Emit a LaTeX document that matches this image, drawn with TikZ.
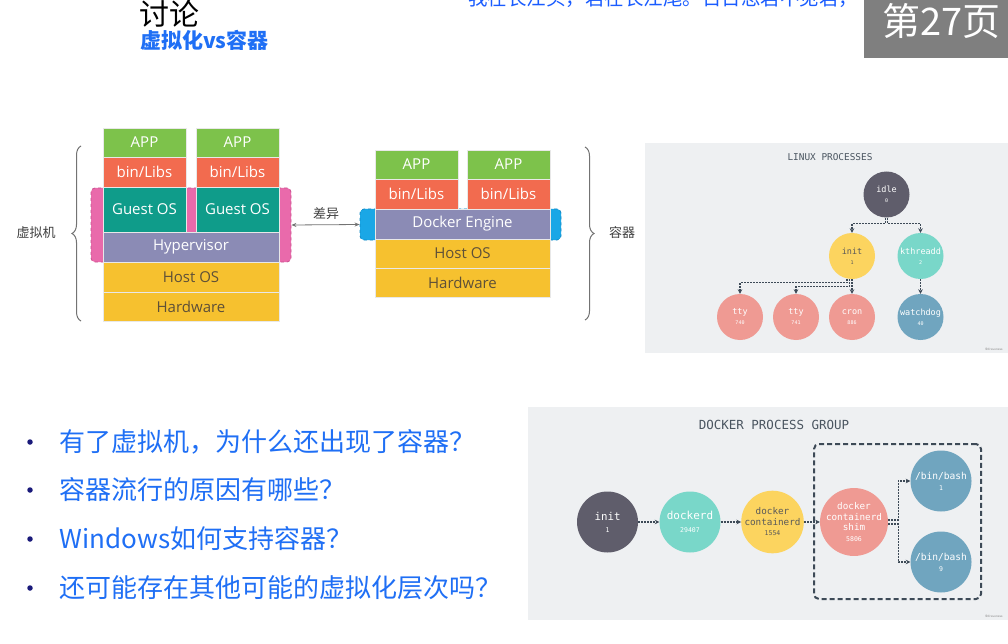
\documentclass[tikz,border=0pt]{standalone}
\usepackage{fontspec}
\setmainfont{Open Sans}
\newfontfamily\cjk{Noto Sans CJK SC}
\newfontfamily\boxfont{Open Sans}
\newfontfamily\pmono{DejaVu Sans Mono}
\usetikzlibrary{arrows.meta,decorations.pathreplacing,calc}
\definecolor{appgreen}{HTML}{7DC24B}
\definecolor{libred}{HTML}{F26B4F}
\definecolor{guestteal}{HTML}{0F9C8A}
\definecolor{hyperpurple}{HTML}{8B8BB5}
\definecolor{hostyellow}{HTML}{F6C12F}
\definecolor{pinkb}{HTML}{E96AAB}
\definecolor{pinkd}{HTML}{C94F8E}
\definecolor{blueb}{HTML}{1AA7E6}
\definecolor{blued}{HTML}{1088C4}
\definecolor{panelbg}{HTML}{EEF0F2}
\definecolor{pdark}{HTML}{5F5D6B}
\definecolor{pyellow}{HTML}{FCD45F}
\definecolor{pteal}{HTML}{79D7C9}
\definecolor{psalmon}{HTML}{EF9A93}
\definecolor{pblue}{HTML}{70A5BF}
\definecolor{linec}{HTML}{3D4A57}
\definecolor{txtblue}{HTML}{1F6FF5}
\definecolor{headblue}{HTML}{1A5CFF}
\definecolor{navy}{HTML}{1A1A7A}
\definecolor{hosttext}{HTML}{5E5038}
\definecolor{graybox}{HTML}{7F7F7F}
\definecolor{ttlgray}{HTML}{4A5560}
\newcommand\pnum[1]{{\fontsize{5}{6}\selectfont #1}}
\newcommand\dnum[1]{{\fontsize{6.5}{7.5}\selectfont #1}}
\begin{document}
\begin{tikzpicture}[x=1pt,y=-1pt,
  layer/.style={rectangle, inner sep=0pt, draw=white!82!gray, line width=0.6pt,
    font=\boxfont\fontsize{15}{18}\selectfont, text=white},
  lbl/.style={font=\cjk\fontsize{13}{15}\selectfont, text=black!75},
  bracebar/.style={decorate, decoration={brace, amplitude=9pt}, draw=black!55, line width=1pt},
  proc/.style={circle, minimum size=46pt, inner sep=0pt, align=center,
    font=\pmono\fontsize{8.5}{10}\selectfont, text=white},
  dproc/.style={circle, minimum size=61pt, inner sep=0pt, align=center,
    font=\pmono\fontsize{9.3}{10.5}\selectfont, text=white},
  conn/.style={draw=linec, line width=1.1pt, dash pattern=on 2pt off 1pt,
    -{Stealth[length=4.5pt,width=4.5pt]}},
  bullettext/.style={anchor=west, font=\cjk\fontsize{26}{28}\selectfont, text=txtblue},
  bulletdot/.style={circle, fill=navy, inner sep=0pt, minimum size=5.5pt}
]
\useasboundingbox (0,0) rectangle (1008,644);
\fill[white] (0,0) rectangle (1008,644);

% header
\node[anchor=base west, font=\cjk\fontsize{19.5}{22}\selectfont, text=headblue, inner sep=0pt] (poem) at (468,6) {我在长江头，君在长江尾。日日思君不见君，};
\node[fill=graybox, anchor=north west, minimum width=144pt, minimum height=58pt, inner sep=0pt] (pagebox) at (864,0) {};
\node[anchor=base west, font=\cjk\fontsize{38}{40}\selectfont, text=white, inner sep=0pt] (pagenum) at (882,36) {第27页};
\node[anchor=west, font=\cjk\fontsize{30}{32}\selectfont, text=black, inner sep=0pt] (title) at (139,14) {讨论};
\node[anchor=west, font=\cjk\bfseries\fontsize{21}{24}\selectfont, text=txtblue, inner sep=0pt] (subtitle) at (140,40) {虚拟化vs容器};

% VM stack
\node[rectangle, rounded corners=4pt, fill=pinkb, draw=pinkd, dashed, line width=0.8pt,
  minimum width=200pt, minimum height=74pt, inner sep=0pt] (pink) at (191,225) {};
\node[layer, fill=appgreen, minimum width=83pt, minimum height=29pt] (vapp1) at (144.5,142.5) {APP};
\node[layer, fill=appgreen, minimum width=83pt, minimum height=29pt] (vapp2) at (237.5,142.5) {APP};
\node[layer, fill=libred, minimum width=83pt, minimum height=30pt] (vlib1) at (144.5,172) {bin/Libs};
\node[layer, fill=libred, minimum width=83pt, minimum height=30pt] (vlib2) at (237.5,172) {bin/Libs};
\node[layer, fill=guestteal, minimum width=83pt, minimum height=45pt] (vg1) at (144.5,209.5) {Guest OS};
\node[layer, fill=guestteal, minimum width=83pt, minimum height=45pt] (vg2) at (237.5,209.5) {Guest OS};
\node[layer, fill=hyperpurple, minimum width=176pt, minimum height=30pt] (hyper) at (191,247) {Hypervisor};
\node[layer, fill=hostyellow, text=hosttext, minimum width=176pt, minimum height=30pt] (vhost) at (191,277) {Host OS};
\node[layer, fill=hostyellow, text=hosttext, minimum width=176pt, minimum height=29pt] (vhw) at (191,306.5) {Hardware};

% Container stack
\node[rectangle, rounded corners=4pt, fill=blueb, draw=blued, dashed, line width=0.8pt,
  minimum width=201pt, minimum height=31pt, inner sep=0pt] (blue) at (460.5,224.5) {};
\node[layer, fill=appgreen, minimum width=83pt, minimum height=29pt] (capp1) at (416.5,164.5) {APP};
\node[layer, fill=appgreen, minimum width=83pt, minimum height=29pt] (capp2) at (508.5,164.5) {APP};
\node[layer, fill=libred, minimum width=83pt, minimum height=30pt] (clib1) at (416.5,194) {bin/Libs};
\node[layer, fill=libred, minimum width=83pt, minimum height=30pt] (clib2) at (508.5,194) {bin/Libs};
\node[layer, fill=hyperpurple, minimum width=175pt, minimum height=30pt] (engine) at (462.5,224) {Docker Engine};
\node[layer, fill=hostyellow, text=hosttext, minimum width=175pt, minimum height=29pt] (chost) at (462.5,253.5) {Host OS};
\node[layer, fill=hostyellow, text=hosttext, minimum width=175pt, minimum height=29pt] (chw) at (462.5,282.5) {Hardware};

% braces and labels
\coordinate (lbtop) at (81,146);
\coordinate (lbbot) at (81,321);
\draw[bracebar] (lbbot) -- (lbtop);
\node[lbl] (vmlabel) at (36,233) {虚拟机};
\coordinate (rbtop) at (585,147);
\coordinate (rbbot) at (585,320);
\draw[bracebar] (rbtop) -- (rbbot);
\node[lbl] (ctlabel) at (622,233) {容器};
\draw[{Stealth[length=5pt,width=4pt]}-{Stealth[length=5pt,width=4pt]}, draw=black!55, line width=0.8pt] (pink.east) -- (blue.west);
\node[lbl] (difflabel) at (326,214) {差异};

% Linux processes panel
\node[fill=panelbg, anchor=north west, minimum width=363pt, minimum height=210pt, inner sep=0pt] (lpanel) at (645,143) {};
\node[font=\pmono\fontsize{9.4}{11}\selectfont, text=ttlgray] (ltitle) at (830,157) {LINUX PROCESSES};
\node[proc, fill=pdark] (idle) at (886.5,194.5) {idle\\\pnum{0}};
\node[proc, fill=pyellow, text=black!65] (init) at (852,256) {init\\\pnum{1}};
\node[proc, fill=pteal] (kthreadd) at (920.5,256) {kthreadd\\\pnum{2}};
\node[proc, fill=psalmon] (tty1) at (740,317) {tty\\\pnum{740}};
\node[proc, fill=psalmon] (tty2) at (796,317) {tty\\\pnum{741}};
\node[proc, fill=psalmon] (cron) at (852,317) {cron\\\pnum{886}};
\node[proc, fill=pblue] (watchdog) at (920.5,317) {watchdog\\\pnum{40}};
\draw[conn] ([xshift=-1.4pt]idle.south) -- ++(0,5.5) -| (init.north);
\draw[conn] ([xshift=1.4pt]idle.south) -- ++(0,5.5) -| (kthreadd.north);
\draw[conn] ([xshift=-5pt]init.south) -- ++(0,3.5) -| (tty1.north);
\draw[conn] ([xshift=-2.5pt]init.south) -- ++(0,7.5) -| (tty2.north);
\draw[conn] (init.south) -- (cron.north);
\draw[conn] (kthreadd.south) -- (watchdog.north);
\node[font=\sffamily\fontsize{3.5}{4}\selectfont, text=black!45, anchor=east] (lsig) at (1006,349) {@draveness};

% Docker process group panel
\node[fill=panelbg, anchor=north west, minimum width=480pt, minimum height=213pt, inner sep=0pt] (dpanel) at (528,407) {};
\node[font=\pmono\fontsize{12.5}{14}\selectfont, text=ttlgray] (dtitle) at (774,425) {DOCKER PROCESS GROUP};
\node[draw=linec, line width=2pt, dash pattern=on 5pt off 3pt, rounded corners=5pt,
  minimum width=167pt, minimum height=155pt, inner sep=0pt] (grp) at (897.5,521.5) {};
\node[dproc, fill=pdark, font=\pmono\fontsize{10.8}{12}\selectfont] (dinit) at (607.5,522) {init\\\dnum{1}};
\node[dproc, fill=pteal, font=\pmono\fontsize{11}{12.5}\selectfont] (dockerd) at (690,522) {dockerd\\\dnum{29407}};
\node[dproc, fill=pyellow, text=black!65] (containerd) at (772.5,522) {docker\\containerd\\\dnum{1554}};
\node[dproc, fill=psalmon] (shim) at (854,522) {docker\\containerd\\shim\\\dnum{5806}};
\node[dproc, fill=pblue, font=\pmono\fontsize{9.6}{11}\selectfont] (bash1) at (941,481) {/bin/bash\\\dnum{1}};
\node[dproc, fill=pblue, font=\pmono\fontsize{9.6}{11}\selectfont] (bash2) at (941,562) {/bin/bash\\\dnum{9}};
\draw[conn] (dinit) -- (dockerd);
\draw[conn] (dockerd) -- (containerd);
\draw[conn] (containerd) -- (shim);
\draw[conn] ([yshift=2pt]shim.east) -- ++(10,0) |- (bash1.west);
\draw[conn] ([yshift=-2pt]shim.east) -- ++(10,0) |- (bash2.west);
\node[font=\sffamily\fontsize{3.5}{4}\selectfont, text=black!45, anchor=east] (dsig) at (1006,616) {@draveness};

% bullets
\node[bulletdot] (b1) at (30,442) {};
\node[bullettext] (t1) at (56,442) {有了虚拟机，为什么还出现了容器？};
\node[bulletdot] (b2) at (30,490) {};
\node[bullettext] (t2) at (56,490) {容器流行的原因有哪些？};
\node[bulletdot] (b3) at (30,539) {};
\node[bullettext] (t3) at (56,539) {Windows如何支持容器？};
\node[bulletdot] (b4) at (30,588) {};
\node[bullettext] (t4) at (56,588) {还可能存在其他可能的虚拟化层次吗？};
\end{tikzpicture}
\end{document}
